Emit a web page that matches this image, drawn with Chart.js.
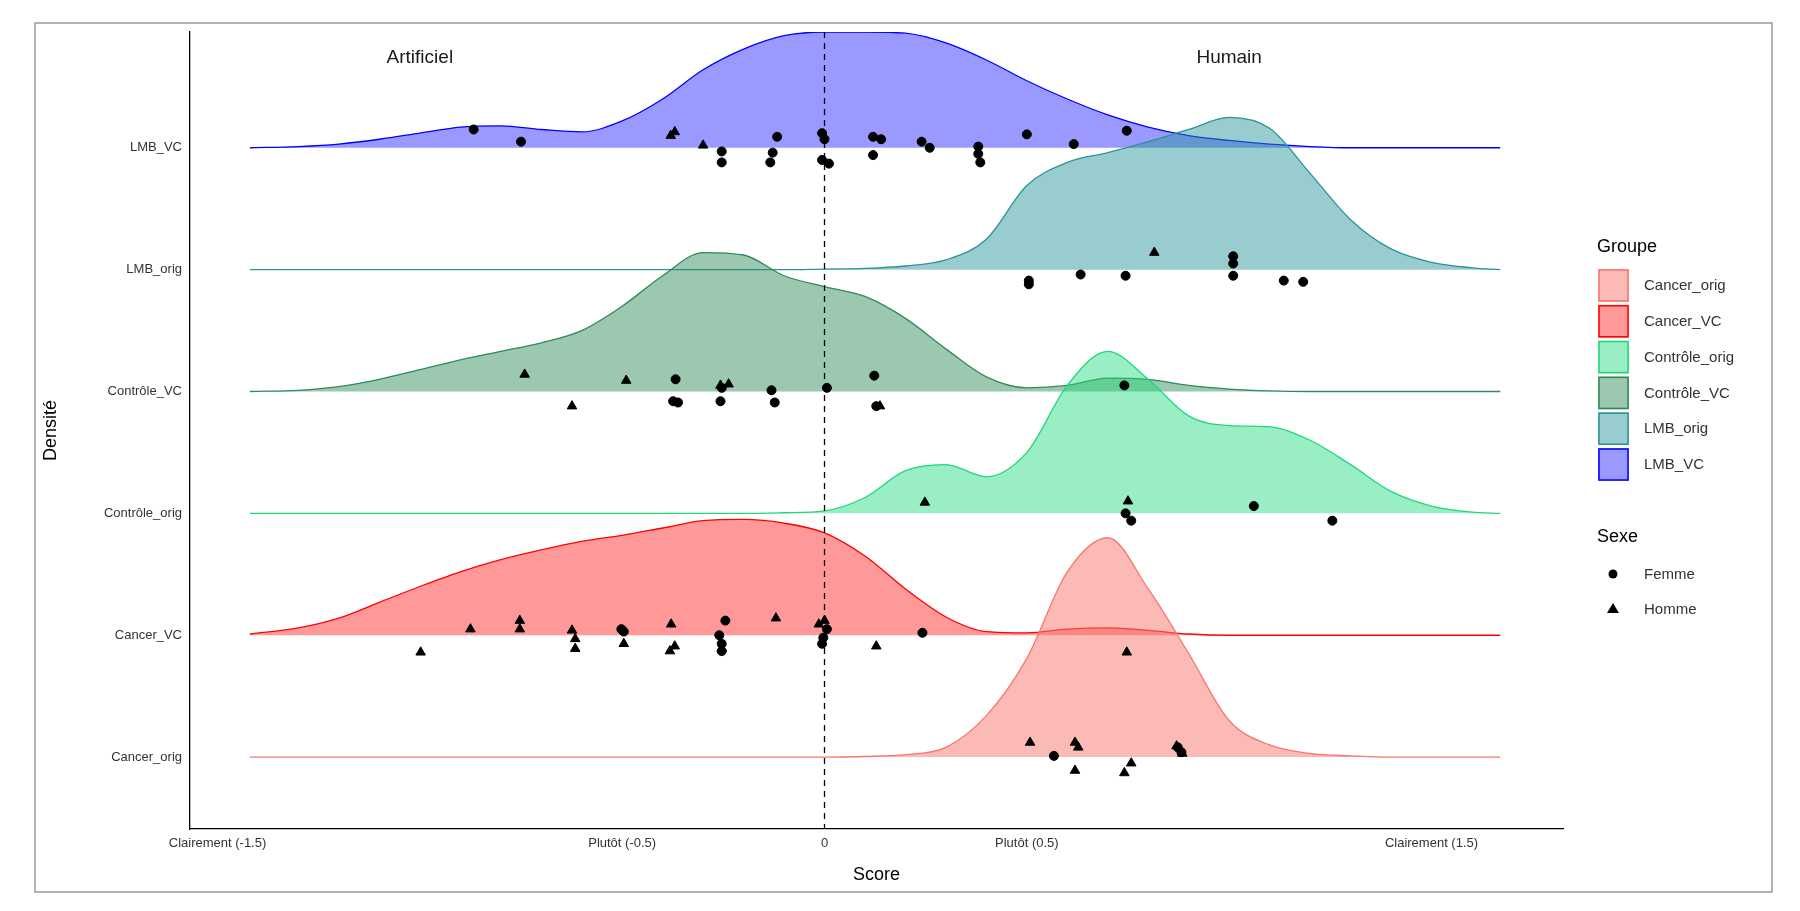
<!DOCTYPE html>
<html><head><meta charset="utf-8">
<script src="https://cdn.jsdelivr.net/npm/chart.js@4"></script>
<style>html,body{margin:0;padding:0;background:#fff}#wrap{width:1800px;height:911px;position:relative}</style>
</head><body><div id="wrap"><canvas id="c" width="1800" height="911"></canvas></div>
<script>
// ---- data ----
const groups = ["Cancer_orig","Cancer_VC","Contrôle_orig","Contrôle_VC","LMB_orig","LMB_VC"];
const xGrid = [-1.42,-1.3,-1.2,-1.1,-1.0,-0.9,-0.8,-0.7,-0.6,-0.5,-0.4,-0.3,-0.2,-0.1,0,0.1,0.2,0.3,0.4,0.5,0.6,0.7,0.8,0.9,1.0,1.1,1.2,1.3,1.4,1.5,1.6,1.67];
const densCancerOrig   = [0,0,0,0,0,0,0,0,0,0,0,0,0,0,0,0.005,0.02,0.08,0.34,0.81,1.52,1.8,1.38,0.85,0.3,0.1,0.03,0.01,0,0,0,0];
const densCancerVC     = [0.01,0.06,0.14,0.27,0.4,0.52,0.62,0.7,0.77,0.82,0.88,0.94,0.95,0.92,0.84,0.65,0.38,0.15,0.03,0.02,0.05,0.06,0.04,0.01,0,0,0,0,0,0,0,0];
const densControleOrig = [0,0,0,0,0,0,0,0,0,0,0,0,0,0.005,0.02,0.13,0.35,0.4,0.3,0.5,1.05,1.33,1.1,0.8,0.72,0.71,0.6,0.4,0.18,0.06,0.01,0];
const densControleVC   = [0,0.01,0.04,0.1,0.18,0.26,0.33,0.4,0.5,0.7,0.95,1.14,1.12,0.95,0.86,0.78,0.6,0.35,0.12,0.03,0.05,0.11,0.1,0.05,0.02,0.005,0,0,0,0,0,0];
const densLMBOrig      = [0,0,0,0,0,0,0,0,0,0,0,0,0,0,0.005,0.01,0.03,0.08,0.25,0.69,0.88,0.96,1.05,1.15,1.25,1.16,0.79,0.41,0.17,0.06,0.015,0];
const densLMBVC        = [0,0.01,0.03,0.07,0.12,0.17,0.18,0.15,0.13,0.22,0.4,0.64,0.81,0.92,0.95,0.95,0.94,0.86,0.72,0.55,0.4,0.27,0.17,0.1,0.06,0.03,0.01,0,0,0,0,0];
const densities = [densCancerOrig,densCancerVC,densControleOrig,densControleVC,densLMBOrig,densLMBVC];
const lineColors = ["#F8766D","#FF0000","#1ED97A","#2E8B57","#2A9499","#0000FF"];
const fillColors = ["rgba(248,118,109,0.5)","rgba(255,0,0,0.4)","rgba(30,217,122,0.45)","rgba(46,139,87,0.48)","rgba(42,148,153,0.48)","rgba(0,0,255,0.4)"];
// points: [groupIndex, score, jitter]
const femmePts = [
 [5,-0.867,0.15],[5,-0.75,0.05],[5,-0.254,-0.03],[5,-0.254,-0.12],[5,-0.117,0.09],[5,-0.128,-0.04],[5,-0.134,-0.12],[5,-0.006,0.12],[5,0.0,0.07],[5,-0.006,-0.1],[5,0.011,-0.13],[5,0.12,0.09],[5,0.14,0.07],[5,0.12,-0.06],[5,0.24,0.05],[5,0.26,0],[5,0.38,0.01],[5,0.38,-0.05],[5,0.385,-0.12],[5,0.5,0.11],[5,0.616,0.03],[5,0.747,0.14],
 [4,0.505,-0.09],[4,0.505,-0.12],[4,0.633,-0.04],[4,0.744,-0.05],[4,1.01,0.11],[4,1.01,0.05],[4,1.01,-0.05],[4,1.135,-0.09],[4,1.183,-0.1],
 [3,-0.368,0.1],[3,-0.374,-0.08],[3,-0.362,-0.09],[3,-0.257,-0.08],[3,-0.254,0.03],[3,-0.131,0.01],[3,-0.123,-0.09],[3,0.006,0.03],[3,0.123,0.13],[3,0.128,-0.12],[3,0.741,0.05],
 [2,0.744,0],[2,0.758,-0.06],[2,1.061,0.06],[2,1.255,-0.06],
 [1,-0.502,0.05],[1,-0.496,0.03],[1,-0.245,0.12],[1,-0.26,0],[1,-0.254,-0.07],[1,-0.254,-0.13],[1,0.006,0.05],[1,-0.003,-0.02],[1,-0.006,-0.07],[1,0.242,0.02],
 [0,0.567,0.01],[0,0.873,0.08],[0,0.882,0.04]
];
const hommePts = [
 [5,-0.38,0.1],[5,-0.37,0.13],[5,-0.3,0.02],
 [4,0.815,0.14],
 [3,-0.741,0.14],[3,-0.49,0.09],[3,-0.624,-0.12],[3,-0.257,0.05],[3,-0.237,0.06],[3,0.137,-0.12],
 [2,0.248,0.09],[2,0.75,0.1],
 [1,-0.998,-0.14],[1,-0.875,0.05],[1,-0.753,0.12],[1,-0.753,0.05],[1,-0.624,0.04],[1,-0.616,-0.03],[1,-0.616,-0.11],[1,-0.496,-0.07],[1,-0.379,0.09],[1,-0.37,-0.09],[1,-0.382,-0.13],[1,-0.254,-0.11],[1,-0.12,0.14],[1,0,0.12],[1,-0.014,0.09],[1,0.128,-0.09],[1,0.747,-0.14],
 [0,0.508,0.12],[0,0.619,0.12],[0,0.627,0.08],[0,0.619,-0.11],[0,0.758,-0.05],[0,0.741,-0.13],[0,0.87,0.09],[0,0.884,0.03]
];
const xTickVals = [-1.5,-0.5,0,0.5,1.5];
const xTickLabels = ["Clairement (-1.5)","Plutôt (-0.5)","0","Plutôt (0.5)","Clairement (1.5)"];

// ---- datasets ----
const datasets = [];
for (let g = groups.length-1; g >= 0; g--) {
  datasets.push({type:'line', label:groups[g], order:10+g, data:xGrid.map((x,i)=>({x:x,y:g+densities[g][i]})),
    borderColor:lineColors[g], backgroundColor:fillColors[g], borderWidth:1.3, pointRadius:0,
    tension:0.4, cubicInterpolationMode:'monotone', fill:{value:g}});
}
const toXY = p => ({x:p[1], y:p[0]+p[2]});
datasets.push({type:'scatter', order:0, label:'Femme', data:femmePts.map(toXY), pointStyle:'circle', pointRadius:4.5, backgroundColor:'#000', borderColor:'#000'});
datasets.push({type:'scatter', order:0, label:'Homme', data:hommePts.map(toXY), pointStyle:'triangle', pointRadius:5.5, backgroundColor:'#000', borderColor:'#000'});

const font = "'Liberation Sans', Arial, sans-serif";
const extras = {
  id:'extras',
  beforeDraw(ch){ const c=ch.ctx; c.save(); c.strokeStyle='#999'; c.lineWidth=1.5; c.strokeRect(35,23,1737,869); c.restore(); },
  afterDraw(ch){
    const c=ch.ctx, xs=ch.scales.x, a=ch.chartArea;
    c.save();
    c.setLineDash([6,5]); c.strokeStyle='#000'; c.lineWidth=1.3;
    c.beginPath(); c.moveTo(xs.getPixelForValue(0),a.top); c.lineTo(xs.getPixelForValue(0),a.bottom); c.stroke();
    c.setLineDash([]);
    c.fillStyle='#1a1a1a'; c.font='19px '+font; c.textAlign='center'; c.textBaseline='middle';
    c.fillText('Artificiel', xs.getPixelForValue(-1.0), 58);
    c.fillText('Humain', xs.getPixelForValue(1.0), 58);
    c.textAlign='left'; c.font='18px '+font; c.fillStyle='#000';
    c.fillText('Groupe', 1597, 247);
    c.font='15px '+font;
    for (let g=0; g<groups.length; g++){
      const y=269+g*35.8;
      c.fillStyle=fillColors[g]; c.fillRect(1598,y,31,33);
      c.strokeStyle=lineColors[g]; c.lineWidth=1.5; c.strokeRect(1599,y+1,29,31);
      c.fillStyle='#333'; c.fillText(groups[g],1644,y+17);
    }
    c.font='18px '+font; c.fillStyle='#000'; c.fillText('Sexe',1597,537);
    c.font='15px '+font; c.fillStyle='#333';
    c.fillText('Femme',1644,575); c.fillText('Homme',1644,610);
    c.fillStyle='#000';
    c.beginPath(); c.arc(1613,574,4.5,0,Math.PI*2); c.fill();
    c.beginPath(); c.moveTo(1613,603); c.lineTo(1619,613); c.lineTo(1607,613); c.closePath(); c.fill();
    c.restore();
  }
};

new Chart(document.getElementById('c'), {
  data:{datasets},
  options:{
    responsive:false, animation:false, devicePixelRatio:1,
    layout:{padding:{left:40,top:32,right:237,bottom:25}},
    plugins:{legend:{display:false}, tooltip:{enabled:false}},
    scales:{
      x:{type:'linear', min:-1.568, max:1.825,
        afterBuildTicks(s){ s.ticks = xTickVals.map(v=>({value:v})); },
        afterFit(s){ s.height = 57; },
        grid:{display:false, drawTicks:true, tickLength:5, tickColor:'#333'},
        border:{display:true,color:'#000',width:1.3},
        ticks:{color:'#333', font:{family:font,size:13}, padding:2, maxRotation:0, autoSkip:false,
          callback:(v)=>{ const i=xTickVals.indexOf(v); return i>=0?xTickLabels[i]:''; }},
        title:{display:true, text:'Score', color:'#000', font:{family:font,size:18}, padding:{top:0,bottom:0}}
      },
      y:{type:'linear', min:-0.59, max:5.95,
        afterBuildTicks(s){ s.ticks = groups.map((g,i)=>({value:i})); },
        afterFit(s){ s.width = 150; },
        grid:{display:false, drawTicks:true, tickLength:5, tickColor:'#333'},
        border:{display:true,color:'#000',width:1.3},
        ticks:{color:'#333', font:{family:font,size:13}, padding:3, autoSkip:false,
          callback:(v)=>groups[v]!==undefined?groups[v]:''},
        title:{display:true, text:'Densité', color:'#000', font:{family:font,size:18}, padding:{top:0,bottom:4}}
      }
    }
  },
  plugins:[extras]
});
</script></body></html>
